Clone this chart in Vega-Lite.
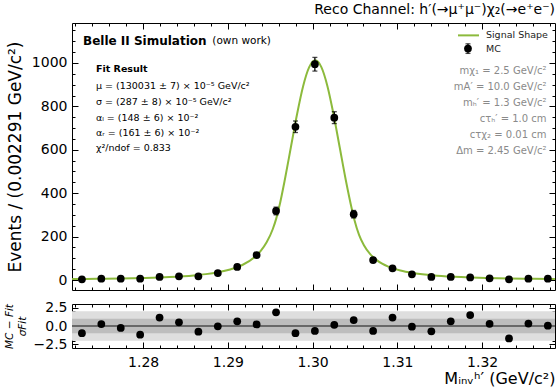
{
  "$schema": "https://vega.github.io/schema/vega-lite/v6.json",
  "padding": {"left": 4, "top": 3, "right": 0, "bottom": 0},
  "background": "white",
  "title": {"text": "Reco Channel: h′(→μ⁺μ⁻)χ₂(→e⁺e⁻)", "anchor": "end", "frame": "group", "font": "DejaVu Sans", "fontSize": 14, "fontWeight": "normal", "color": "black", "offset": 5},
  "config": {
    "font": "DejaVu Sans",
    "view": {"stroke": "black", "strokeWidth": 1},
    "axis": {"domain": false, "grid": false, "tickColor": "black", "tickWidth": 1, "labelFont": "DejaVu Sans", "labelFontSize": 14, "labelColor": "black", "titleFont": "DejaVu Sans", "titleFontSize": 16, "titleFontWeight": "normal", "titleColor": "black", "labelPadding": 11, "tickSize": -6}
  },
  "datasets": {
    "curve": [
      {"x": 1.27161, "y": 4.16}, {"x": 1.27448, "y": 5.33}, {"x": 1.27735, "y": 7.04}, {"x": 1.28022, "y": 9.65}, {"x": 1.28309, "y": 13.86}, {"x": 1.28596, "y": 21.2}, {"x": 1.287395, "y": 27.1}, {"x": 1.28883, "y": 35.7}, {"x": 1.290265, "y": 48.6}, {"x": 1.2917, "y": 69.2}, {"x": 1.293135, "y": 104.9}, {"x": 1.2938525, "y": 133.2}, {"x": 1.29457, "y": 173.6}, {"x": 1.2952875, "y": 233.9}, {"x": 1.295718, "y": 285.2}, {"x": 1.2960624, "y": 338.5}, {"x": 1.2967225, "y": 463.3}, {"x": 1.29744, "y": 613.8}, {"x": 1.2981575, "y": 763.8}, {"x": 1.298875, "y": 893.1}, {"x": 1.2995925, "y": 980.8}, {"x": 1.30031, "y": 1012}, {"x": 1.3010275, "y": 980.8}, {"x": 1.301745, "y": 893.1}, {"x": 1.3024625, "y": 763.8}, {"x": 1.30318, "y": 613.8}, {"x": 1.3038975, "y": 463.3}, {"x": 1.304615, "y": 328.6}, {"x": 1.3049307, "y": 276.9}, {"x": 1.305476, "y": 208.3}, {"x": 1.30605, "y": 160.4}, {"x": 1.3067675, "y": 120.6}, {"x": 1.307485, "y": 94.0}, {"x": 1.3082025, "y": 75.3}, {"x": 1.30892, "y": 61.7}, {"x": 1.310355, "y": 43.5}, {"x": 1.31179, "y": 32.4}, {"x": 1.313225, "y": 25.0}, {"x": 1.31466, "y": 19.9}, {"x": 1.31753, "y": 13.5}, {"x": 1.3204, "y": 9.71}, {"x": 1.32327, "y": 7.33}, {"x": 1.32614, "y": 5.73}, {"x": 1.32859, "y": 4.74}
    ],
    "mc": [
      {"x": 1.27277, "n": 3, "lo": 1.27, "hi": 4.73, "pull": -0.98},
      {"x": 1.275061, "n": 6, "lo": 3.55, "hi": 8.45, "pull": 0.26},
      {"x": 1.277352, "n": 6, "lo": 3.55, "hi": 8.45, "pull": -0.26},
      {"x": 1.279643, "n": 6, "lo": 3.55, "hi": 8.45, "pull": -1.19},
      {"x": 1.281934, "n": 14, "lo": 10.26, "hi": 17.74, "pull": 1.15},
      {"x": 1.284225, "n": 17, "lo": 12.88, "hi": 21.12, "pull": 0.51},
      {"x": 1.286516, "n": 17, "lo": 12.88, "hi": 21.12, "pull": -0.77},
      {"x": 1.288807, "n": 32, "lo": 26.34, "hi": 37.66, "pull": -0.04},
      {"x": 1.291098, "n": 60, "lo": 52.25, "hi": 67.75, "pull": 0.64},
      {"x": 1.293389, "n": 115, "lo": 104.28, "hi": 125.72, "pull": 0.21},
      {"x": 1.29568, "n": 318, "lo": 300.17, "hi": 335.83, "pull": 1.87},
      {"x": 1.297971, "n": 706, "lo": 679.43, "hi": 732.57, "pull": -0.98},
      {"x": 1.300262, "n": 994, "lo": 962.47, "hi": 1025.53, "pull": -0.68},
      {"x": 1.302553, "n": 748, "lo": 720.65, "hi": 775.35, "pull": 0.17},
      {"x": 1.304844, "n": 303, "lo": 285.59, "hi": 320.41, "pull": 0.81},
      {"x": 1.307135, "n": 92, "lo": 82.41, "hi": 101.59, "pull": -0.68},
      {"x": 1.309426, "n": 54, "lo": 46.65, "hi": 61.35, "pull": 1.15},
      {"x": 1.311717, "n": 26, "lo": 20.9, "hi": 31.1, "pull": -0.09},
      {"x": 1.314008, "n": 14, "lo": 10.26, "hi": 17.74, "pull": -0.72},
      {"x": 1.316299, "n": 14, "lo": 10.26, "hi": 17.74, "pull": 0.64},
      {"x": 1.31859, "n": 12, "lo": 8.54, "hi": 15.46, "pull": 1.49},
      {"x": 1.320881, "n": 8, "lo": 5.17, "hi": 10.83, "pull": 0.3},
      {"x": 1.323172, "n": 3, "lo": 1.27, "hi": 4.73, "pull": -1.7},
      {"x": 1.325463, "n": 6, "lo": 3.55, "hi": 8.45, "pull": 0.34},
      {"x": 1.327754, "n": 6, "lo": 3.55, "hi": 8.45, "pull": 0.04}
    ],
    "brandBold": [{"x": 1.2729, "y": 1101, "label": "Belle II Simulation"}],
    "brandNormal": [{"x": 1.28816, "y": 1101, "label": "(own work)"}],
    "fitHead": [{"x": 1.27443, "y": 972, "label": "Fit Result"}],
    "fitLines": [
      {"x": 1.27443, "y": 894, "label": "μ = (130031 ± 7) × 10⁻⁵ GeV/c²"},
      {"x": 1.27443, "y": 821, "label": "σ = (287 ± 8) × 10⁻⁵ GeV/c²"},
      {"x": 1.27443, "y": 748, "label": "αₗ = (148 ± 6) × 10⁻²"},
      {"x": 1.27443, "y": 676, "label": "αᵣ = (161 ± 6) × 10⁻²"},
      {"x": 1.27443, "y": 607, "label": "χ²/ndof = 0.833"}
    ],
    "params": [
      {"x": 1.3276, "y": 963, "label": "mχ₁ = 2.5 GeV/c²"},
      {"x": 1.3276, "y": 889, "label": "mA′ = 10.0 GeV/c²"},
      {"x": 1.3276, "y": 815, "label": "mₕ′ = 1.3 GeV/c²"},
      {"x": 1.3276, "y": 742, "label": "cτₕ′ = 1.0 cm"},
      {"x": 1.3276, "y": 668, "label": "cτχ₂ = 0.01 cm"},
      {"x": 1.3276, "y": 594, "label": "Δm = 2.45 GeV/c²"}
    ],
    "legLine": [{"x": 1.31715, "y": 1127}, {"x": 1.31963, "y": 1127}],
    "legPoint": [{"x": 1.31833, "y": 1066, "lo": 1044, "hi": 1088}],
    "legText": [{"x": 1.32045, "y": 1127, "label": "Signal Shape"}, {"x": 1.32045, "y": 1066, "label": "MC"}]
  },
  "vconcat": [
    {
      "width": 483,
      "height": 267,
      "resolve": {"axis": {"x": "independent", "y": "independent"}},
      "layer": [
        {
          "data": {"name": "curve"},
          "mark": {"type": "line", "color": "#8cba3c", "strokeWidth": 2, "interpolate": "monotone"},
          "encoding": {
            "x": {"field": "x", "type": "quantitative", "scale": {"domain": [1.2716, 1.3286], "nice": false, "zero": false}, "axis": {"orient": "bottom", "values": [1.28, 1.29, 1.3, 1.31, 1.32], "labels": false, "title": null}},
            "y": {"field": "y", "type": "quantitative", "scale": {"domain": [-46, 1184], "nice": false, "zero": false}, "axis": {"orient": "left", "values": [0, 200, 400, 600, 800, 1000], "format": "d", "title": "Events / (0.002291 GeV/c²)", "titleAngle": 270, "titleAlign": "right", "titleBaseline": "bottom", "titleY": 18, "titlePadding": 7, "titleFontSize": 17}}
          }
        },
        {
          "data": {"name": "curve"},
          "mark": {"type": "point", "opacity": 0},
          "encoding": {
            "x": {"field": "x", "type": "quantitative", "axis": {"orient": "top", "values": [1.28, 1.29, 1.3, 1.31, 1.32], "labels": false, "title": null}},
            "y": {"field": "y", "type": "quantitative", "axis": {"orient": "right", "values": [0, 200, 400, 600, 800, 1000], "labels": false, "title": null}}
          }
        },
        {
          "data": {"name": "curve"},
          "mark": {"type": "point", "opacity": 0},
          "encoding": {
            "x": {"field": "x", "type": "quantitative", "axis": {"orient": "bottom", "values": [1.272, 1.274, 1.276, 1.278, 1.282, 1.284, 1.286, 1.288, 1.292, 1.294, 1.296, 1.298, 1.302, 1.304, 1.306, 1.308, 1.312, 1.314, 1.316, 1.318, 1.322, 1.324, 1.326, 1.328], "labels": false, "title": null, "tickSize": -3}},
            "y": {"field": "y", "type": "quantitative", "axis": {"orient": "left", "values": [50, 100, 150, 250, 300, 350, 450, 500, 550, 650, 700, 750, 850, 900, 950, 1050, 1100, 1150], "labels": false, "title": null, "tickSize": -3}}
          }
        },
        {
          "data": {"name": "curve"},
          "mark": {"type": "point", "opacity": 0},
          "encoding": {
            "x": {"field": "x", "type": "quantitative", "axis": {"orient": "top", "values": [1.272, 1.274, 1.276, 1.278, 1.282, 1.284, 1.286, 1.288, 1.292, 1.294, 1.296, 1.298, 1.302, 1.304, 1.306, 1.308, 1.312, 1.314, 1.316, 1.318, 1.322, 1.324, 1.326, 1.328], "labels": false, "title": null, "tickSize": -3}},
            "y": {"field": "y", "type": "quantitative", "axis": {"orient": "right", "values": [50, 100, 150, 250, 300, 350, 450, 500, 550, 650, 700, 750, 850, 900, 950, 1050, 1100, 1150], "labels": false, "title": null, "tickSize": -3}}
          }
        },
        {
          "data": {"name": "mc"},
          "mark": {"type": "rule", "color": "black", "strokeWidth": 1.3},
          "encoding": {
            "x": {"field": "x", "type": "quantitative", "axis": null},
            "y": {"field": "lo", "type": "quantitative", "axis": null},
            "y2": {"field": "hi"}
          }
        },
        {
          "data": {"name": "mc"},
          "mark": {"type": "tick", "orient": "horizontal", "color": "black", "size": 5, "thickness": 1.3},
          "encoding": {
            "x": {"field": "x", "type": "quantitative", "axis": null},
            "y": {"field": "lo", "type": "quantitative", "axis": null}
          }
        },
        {
          "data": {"name": "mc"},
          "mark": {"type": "tick", "orient": "horizontal", "color": "black", "size": 5, "thickness": 1.3},
          "encoding": {
            "x": {"field": "x", "type": "quantitative", "axis": null},
            "y": {"field": "hi", "type": "quantitative", "axis": null}
          }
        },
        {
          "data": {"name": "mc"},
          "mark": {"type": "circle", "color": "black", "size": 60, "opacity": 1},
          "encoding": {
            "x": {"field": "x", "type": "quantitative", "axis": null},
            "y": {"field": "n", "type": "quantitative", "axis": null}
          }
        },
        {
          "data": {"name": "legLine"},
          "mark": {"type": "line", "color": "#8cba3c", "strokeWidth": 2},
          "encoding": {
            "x": {"field": "x", "type": "quantitative", "axis": null},
            "y": {"field": "y", "type": "quantitative", "axis": null}
          }
        },
        {
          "data": {"name": "legPoint"},
          "mark": {"type": "rule", "color": "black", "strokeWidth": 1.3},
          "encoding": {
            "x": {"field": "x", "type": "quantitative", "axis": null},
            "y": {"field": "lo", "type": "quantitative", "axis": null},
            "y2": {"field": "hi"}
          }
        },
        {
          "data": {"name": "legPoint"},
          "mark": {"type": "tick", "orient": "horizontal", "color": "black", "size": 5, "thickness": 1.3},
          "encoding": {
            "x": {"field": "x", "type": "quantitative", "axis": null},
            "y": {"field": "lo", "type": "quantitative", "axis": null}
          }
        },
        {
          "data": {"name": "legPoint"},
          "mark": {"type": "tick", "orient": "horizontal", "color": "black", "size": 5, "thickness": 1.3},
          "encoding": {
            "x": {"field": "x", "type": "quantitative", "axis": null},
            "y": {"field": "hi", "type": "quantitative", "axis": null}
          }
        },
        {
          "data": {"name": "legPoint"},
          "mark": {"type": "circle", "color": "black", "size": 60, "opacity": 1},
          "encoding": {
            "x": {"field": "x", "type": "quantitative", "axis": null},
            "y": {"field": "y", "type": "quantitative", "axis": null}
          }
        },
        {
          "data": {"name": "legText"},
          "mark": {"type": "text", "align": "left", "baseline": "middle", "fontSize": 9.5, "color": "#222222"},
          "encoding": {
            "x": {"field": "x", "type": "quantitative", "axis": null},
            "y": {"field": "y", "type": "quantitative", "axis": null},
            "text": {"field": "label"}
          }
        },
        {
          "data": {"name": "brandBold"},
          "mark": {"type": "text", "align": "left", "baseline": "middle", "fontSize": 12, "fontWeight": "bold", "color": "black"},
          "encoding": {
            "x": {"field": "x", "type": "quantitative", "axis": null},
            "y": {"field": "y", "type": "quantitative", "axis": null},
            "text": {"field": "label"}
          }
        },
        {
          "data": {"name": "brandNormal"},
          "mark": {"type": "text", "align": "left", "baseline": "middle", "fontSize": 10.5, "color": "black"},
          "encoding": {
            "x": {"field": "x", "type": "quantitative", "axis": null},
            "y": {"field": "y", "type": "quantitative", "axis": null},
            "text": {"field": "label"}
          }
        },
        {
          "data": {"name": "fitHead"},
          "mark": {"type": "text", "align": "left", "baseline": "middle", "fontSize": 9.5, "fontWeight": "bold", "color": "black"},
          "encoding": {
            "x": {"field": "x", "type": "quantitative", "axis": null},
            "y": {"field": "y", "type": "quantitative", "axis": null},
            "text": {"field": "label"}
          }
        },
        {
          "data": {"name": "fitLines"},
          "mark": {"type": "text", "align": "left", "baseline": "middle", "fontSize": 9.5, "color": "black"},
          "encoding": {
            "x": {"field": "x", "type": "quantitative", "axis": null},
            "y": {"field": "y", "type": "quantitative", "axis": null},
            "text": {"field": "label"}
          }
        },
        {
          "data": {"name": "params"},
          "mark": {"type": "text", "align": "right", "baseline": "middle", "fontSize": 10, "color": "#8a8a8a"},
          "encoding": {
            "x": {"field": "x", "type": "quantitative", "axis": null},
            "y": {"field": "y", "type": "quantitative", "axis": null},
            "text": {"field": "label"}
          }
        }
      ]
    },
    {
      "width": 483,
      "height": 44,
      "resolve": {"axis": {"x": "independent", "y": "independent"}},
      "layer": [
        {
          "data": {"values": [{"lo": -2, "hi": 2}]},
          "mark": {"type": "rect", "color": "#dedede"},
          "encoding": {
            "y": {"field": "lo", "type": "quantitative", "scale": {"domain": [-3, 3], "nice": false, "zero": false}, "axis": null},
            "y2": {"field": "hi"}
          }
        },
        {
          "data": {"values": [{"lo": -1, "hi": 1}]},
          "mark": {"type": "rect", "color": "#bdbdbd"},
          "encoding": {
            "y": {"field": "lo", "type": "quantitative", "axis": null},
            "y2": {"field": "hi"}
          }
        },
        {
          "data": {"values": [{"v": 0}]},
          "mark": {"type": "rule", "color": "#4d4d4d", "strokeWidth": 1.5},
          "encoding": {
            "y": {"field": "v", "type": "quantitative", "axis": null}
          }
        },
        {
          "data": {"name": "mc"},
          "mark": {"type": "circle", "color": "black", "size": 60, "opacity": 1},
          "encoding": {
            "x": {"field": "x", "type": "quantitative", "scale": {"domain": [1.2716, 1.3286], "nice": false, "zero": false}, "axis": {"orient": "bottom", "values": [1.28, 1.29, 1.3, 1.31, 1.32], "format": ".2f", "title": "Mᵢₙᵥʰ′ (GeV/c²)", "titleAnchor": "end", "titlePadding": 1, "labelPadding": 13}},
            "y": {"field": "pull", "type": "quantitative", "scale": {"domain": [-3, 3], "nice": false, "zero": false}, "axis": {"orient": "left", "values": [-2.5, 0, 2.5], "format": ".1f", "title": ["MC − Fit", "σFit"], "titleFontSize": 10.5, "titleFontStyle": "italic", "titlePadding": 6}}
          }
        },
        {
          "data": {"name": "mc"},
          "mark": {"type": "point", "opacity": 0},
          "encoding": {
            "x": {"field": "x", "type": "quantitative", "axis": {"orient": "top", "values": [1.28, 1.29, 1.3, 1.31, 1.32], "labels": false, "title": null}},
            "y": {"field": "pull", "type": "quantitative", "axis": {"orient": "right", "values": [-2.5, 0, 2.5], "labels": false, "title": null}}
          }
        },
        {
          "data": {"name": "mc"},
          "mark": {"type": "point", "opacity": 0},
          "encoding": {
            "x": {"field": "x", "type": "quantitative", "axis": {"orient": "bottom", "values": [1.272, 1.274, 1.276, 1.278, 1.282, 1.284, 1.286, 1.288, 1.292, 1.294, 1.296, 1.298, 1.302, 1.304, 1.306, 1.308, 1.312, 1.314, 1.316, 1.318, 1.322, 1.324, 1.326, 1.328], "labels": false, "title": null, "tickSize": -3}},
            "y": {"field": "pull", "type": "quantitative", "axis": {"orient": "left", "values": [-2, -1.5, -1, -0.5, 0.5, 1, 1.5, 2], "labels": false, "title": null, "tickSize": -3}}
          }
        },
        {
          "data": {"name": "mc"},
          "mark": {"type": "point", "opacity": 0},
          "encoding": {
            "x": {"field": "x", "type": "quantitative", "axis": {"orient": "top", "values": [1.272, 1.274, 1.276, 1.278, 1.282, 1.284, 1.286, 1.288, 1.292, 1.294, 1.296, 1.298, 1.302, 1.304, 1.306, 1.308, 1.312, 1.314, 1.316, 1.318, 1.322, 1.324, 1.326, 1.328], "labels": false, "title": null, "tickSize": -3}},
            "y": {"field": "pull", "type": "quantitative", "axis": {"orient": "right", "values": [-2, -1.5, -1, -0.5, 0.5, 1, 1.5, 2], "labels": false, "title": null, "tickSize": -3}}
          }
        }
      ]
    }
  ],
  "spacing": 14,
  "bounds": "flush"
}
